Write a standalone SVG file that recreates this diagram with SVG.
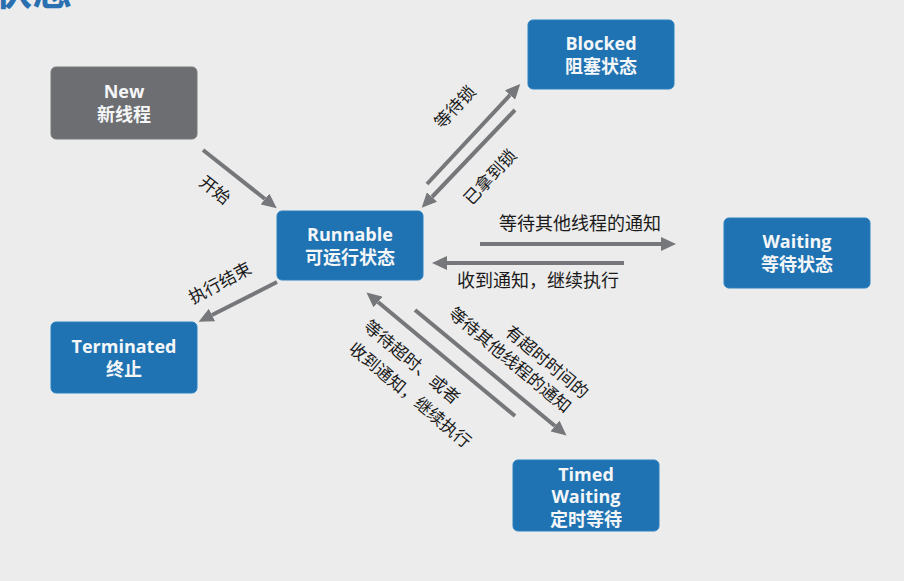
<svg xmlns="http://www.w3.org/2000/svg" width="904" height="581" viewBox="0 0 904 581">
<defs>
<style>
.box{fill:#1f73b3;stroke:#2a80c0;stroke-width:1}
.gray{fill:#6d6e72;stroke:#77787c;stroke-width:1}
.t{font-family:"Open Sans","Noto Sans","Noto Sans CJK SC",sans-serif;font-weight:bold;font-size:18px;fill:#f4f6f8;text-anchor:middle}
.lbl{font-family:"Noto Sans CJK SC",sans-serif;font-size:17px;fill:#1a1a1a;text-anchor:middle}
.ln{stroke:#76777a;stroke-width:4;fill:none;marker-end:url(#ah)}
</style>
<marker id="ah" markerUnits="userSpaceOnUse" markerWidth="16" markerHeight="14" refX="0" refY="7" orient="auto" viewBox="0 0 16 14">
<path d="M0,0 L15,7 L0,14 z" fill="#76777a"/>
</marker>
</defs>
<rect width="904" height="581" fill="#ececec"/>
<text x="-8" y="5" font-family="Noto Sans CJK SC,sans-serif" font-weight="bold" font-size="40" fill="#2a6fb0">状态</text>

<g id="connectors">
<line class="ln" x1="203" y1="150" x2="265" y2="199"/>
<line class="ln" x1="277" y1="282" x2="212" y2="315"/>
<line class="ln" x1="427" y1="184" x2="510" y2="95"/>
<line class="ln" x1="515" y1="110" x2="432" y2="197"/>
<line class="ln" x1="480" y1="244" x2="661" y2="244"/>
<line class="ln" x1="624" y1="263" x2="447" y2="263"/>
<line class="ln" x1="415" y1="310" x2="555" y2="426"/>
<line class="ln" x1="515" y1="416" x2="378" y2="302"/>
</g>

<g id="labels">
<text class="lbl" transform="translate(215,190) rotate(38)" y="6">开始</text>
<text class="lbl" transform="translate(220,283) rotate(-28)" y="6">执行结束</text>
<text class="lbl" transform="translate(455,107) rotate(-47)" y="6">等待锁</text>
<text class="lbl" transform="translate(490,177) rotate(-47)" y="6">已拿到锁</text>
<text class="lbl" x="580" y="230" style="font-size:18px">等待其他线程的通知</text>
<text class="lbl" x="538" y="287" style="font-size:18px">收到通知，继续执行</text>
<text class="lbl" transform="translate(547,362) rotate(40)" y="6">有超时时间的</text>
<text class="lbl" transform="translate(510,360) rotate(40)" y="6">等待其他线程的通知</text>
<text class="lbl" transform="translate(412,362) rotate(40)" y="6">等待超时、或者</text>
<text class="lbl" transform="translate(410,395) rotate(40)" y="6">收到通知，继续执行</text>
</g>

<g id="new">
<rect class="gray" x="51" y="67" width="146" height="72" rx="5"/>
<text class="t" x="124" y="98">New</text>
<text class="t" x="124" y="121">新线程</text>
</g>
<g id="blocked">
<rect class="box" x="528" y="20" width="146" height="69" rx="5"/>
<text class="t" x="601" y="50">Blocked</text>
<text class="t" x="601" y="73">阻塞状态</text>
</g>
<g id="runnable">
<rect class="box" x="277" y="211" width="146" height="69" rx="5"/>
<text class="t" x="350" y="241">Runnable</text>
<text class="t" x="350" y="264">可运行状态</text>
</g>
<g id="waiting">
<rect class="box" x="724" y="218" width="146" height="70" rx="5"/>
<text class="t" x="797" y="248">Waiting</text>
<text class="t" x="797" y="271">等待状态</text>
</g>
<g id="terminated">
<rect class="box" x="51" y="322" width="146" height="71" rx="5"/>
<text class="t" x="124" y="353">Terminated</text>
<text class="t" x="124" y="376">终止</text>
</g>
<g id="timedwaiting">
<rect class="box" x="513" y="460" width="146" height="71" rx="5"/>
<text class="t" x="586" y="481">Timed</text>
<text class="t" x="586" y="503">Waiting</text>
<text class="t" x="586" y="526">定时等待</text>
</g>
</svg>
